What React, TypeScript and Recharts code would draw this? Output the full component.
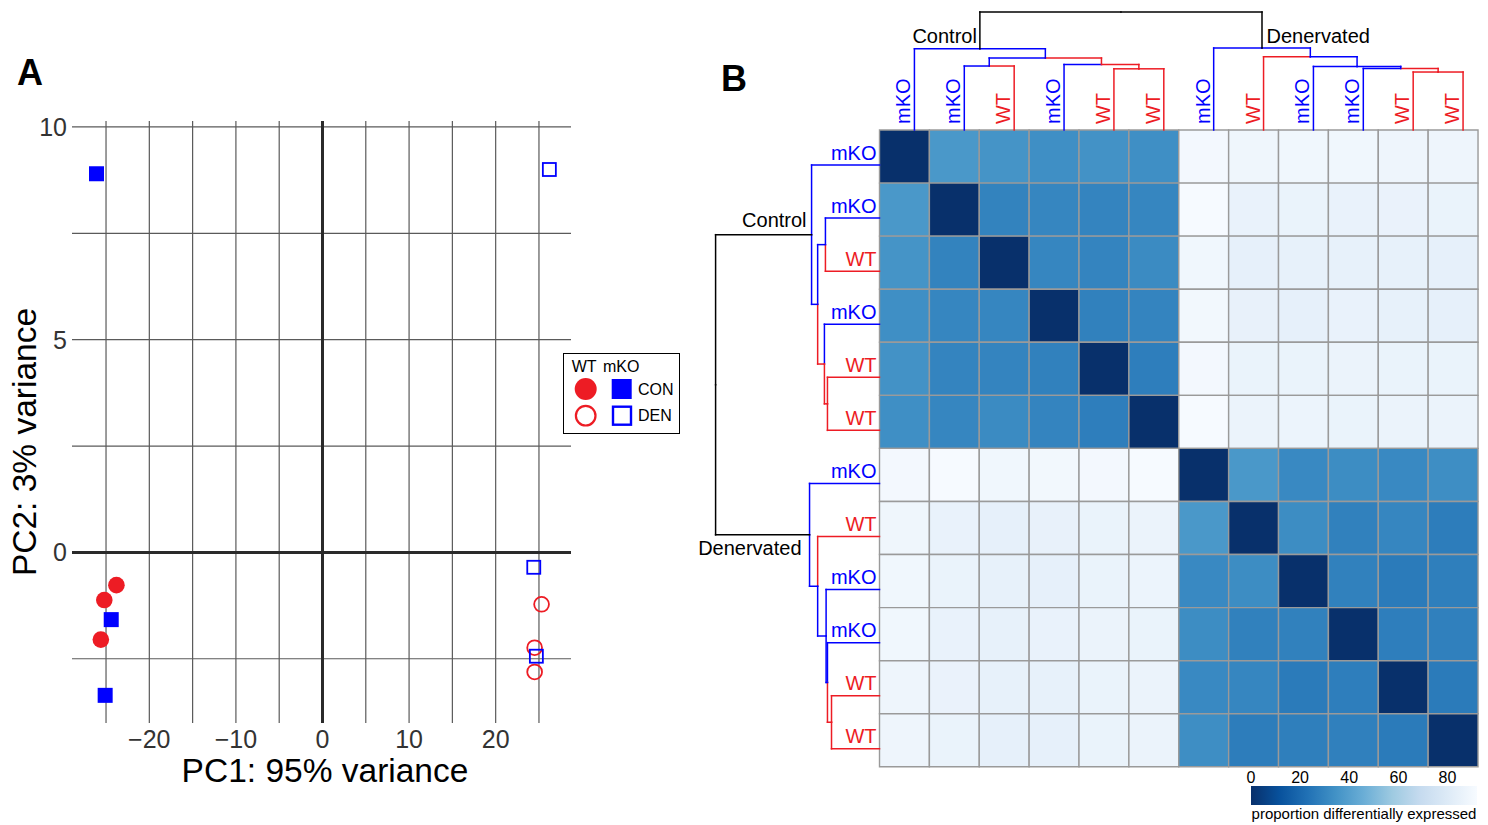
import React from 'react';
import { ScatterChart, Scatter, XAxis, YAxis, ReferenceLine, ReferenceArea, Legend, Label } from 'recharts';

const FONT = '"Liberation Sans", Arial, Helvetica, sans-serif';
const RED = '#ed1c24';
const BLUE = '#0000ff';

// ---- Panel A: PCA ----
const wtControl = [
  { pc1: -23.8, pc2: -0.77 },
  { pc1: -25.2, pc2: -1.12 },
  { pc1: -25.6, pc2: -2.05 },
];
const mkoControl = [
  { pc1: -26.1, pc2: 8.9 },
  { pc1: -24.4, pc2: -1.58 },
  { pc1: -25.1, pc2: -3.36 },
];
const wtDenervated = [
  { pc1: 25.3, pc2: -1.22 },
  { pc1: 24.5, pc2: -2.24 },
  { pc1: 24.5, pc2: -2.81 },
];
const mkoDenervated = [
  { pc1: 26.2, pc2: 9.0 },
  { pc1: 24.4, pc2: -0.35 },
  { pc1: 24.7, pc2: -2.44 },
];
const pc1Ticks = [-20, -10, 0, 10, 20];
const pc2Ticks = [0, 5, 10];
const pc1Grid = [-25, -20, -15, -10, -5, 5, 10, 15, 20, 25];
const pc2Grid = [-2.5, 2.5, 5, 7.5, 10];
const legendGenotypes = ['WT', 'mKO'];
const legendConditions = ['CON', 'DEN'];

// ---- Panel B: heatmap + dendrograms ----
const leafGenotypes = ['mKO', 'mKO', 'WT', 'mKO', 'WT', 'WT', 'mKO', 'WT', 'mKO', 'mKO', 'WT', 'WT'];
const groupLabels = ['Control', 'Denervated'];
const diffExpressed = [
  [0, 36.8, 35.3, 33.5, 34.7, 33.5, 90.2, 88.4, 88.8, 88.8, 87.9, 87.9],
  [36.8, 0, 29.3, 30.3, 29.6, 30.3, 91.5, 85.6, 86.0, 85.6, 85.8, 86.0],
  [35.3, 29.3, 0, 30.3, 29.6, 32.1, 88.8, 84.2, 84.6, 84.6, 84.6, 84.2],
  [33.5, 30.3, 30.3, 0, 28.6, 29.6, 89.8, 85.0, 84.2, 85.6, 84.6, 84.2],
  [34.7, 29.6, 29.6, 28.6, 0, 27.5, 90.2, 86.0, 86.0, 86.5, 86.0, 86.0],
  [33.5, 30.3, 32.1, 29.6, 27.5, 0, 91.5, 86.5, 87.0, 86.0, 86.5, 86.5],
  [90.2, 91.5, 88.8, 89.8, 90.2, 91.5, 0, 36.8, 31.5, 32.8, 31.5, 33.2],
  [88.4, 85.6, 84.2, 85.0, 86.0, 86.5, 36.8, 0, 32.8, 28.6, 30.3, 27.3],
  [88.8, 86.0, 84.6, 84.2, 86.0, 87.0, 31.5, 32.8, 0, 28.6, 26.5, 27.8],
  [88.8, 85.6, 84.6, 85.6, 86.5, 86.0, 32.8, 28.6, 28.6, 0, 27.5, 28.2],
  [87.9, 85.8, 84.6, 84.6, 86.0, 86.5, 31.5, 30.3, 26.5, 27.5, 0, 26.5],
  [87.9, 86.0, 84.2, 84.2, 86.0, 86.5, 33.2, 27.3, 27.8, 28.2, 26.5, 0],
];
// merges: ids 0-11 are samples, merge k gets id 12 + k
const mergeLeft = [4, 3, 1, 14, 0, 10, 9, 8, 7, 6, 16];
const mergeRight = [5, 12, 2, 13, 15, 11, 17, 18, 19, 20, 21];
const mergeLeftBranch = ['WT', 'mKO', 'mKO', 'mKO', 'mKO', 'WT', 'mKO', 'mKO', 'WT', 'mKO', 'root'];
const mergeRightBranch = ['WT', 'WT', 'WT', 'WT', 'mKO', 'WT', 'WT', 'mKO', 'mKO', 'mKO', 'root'];
const colMergeHeights = [1.53, 1.64, 1.6, 1.8, 2.03, 1.45, 1.54, 1.59, 1.83, 2.05, 2.95];
const rowMergeHeights = [1.54, 1.63, 1.6, 1.83, 2.01, 1.42, 1.54, 1.58, 1.83, 2.07, 4.85];
const colorbarTicks = [0, 20, 40, 60, 80];
const scaleMax = 92;
const bluesStops = ['#08306b', '#08519c', '#2171b5', '#4292c6', '#6baed6', '#9ecae1', '#c6dbef', '#deebf7', '#f7fbff'];

const branchColor: Record<string, string> = { mKO: BLUE, WT: RED, root: '#000000' };
const labelColor: Record<string, string> = { mKO: BLUE, WT: RED };

const hexToRgb = (h: string) => [1, 3, 5].map((k) => parseInt(h.slice(k, k + 2), 16));
const valueColor = (v: number) => {
  const t = Math.max(0, Math.min(1, v / scaleMax)) * (bluesStops.length - 1);
  const i = Math.min(Math.floor(t), bluesStops.length - 2);
  const f = t - i;
  const a = hexToRgb(bluesStops[i]);
  const b = hexToRgb(bluesStops[i + 1]);
  return `rgb(${a.map((c, k) => Math.round(c + (b[k] - c) * f)).join(',')})`;
};

const N = leafGenotypes.length;
const TOP_SHIFT = 0.2;
const TOP_SCALE = 0.7537;
const LEFT_SHIFT = 0.16;
const LEFT_SCALE = 0.6776;

const nodePos: number[] = leafGenotypes.map((_, i) => i + 0.5);
mergeLeft.forEach((l, k) => nodePos.push((nodePos[l] + nodePos[mergeRight[k]]) / 2));

type Seg = { x1: number; y1: number; x2: number; y2: number; color: string };
const topSegs: Seg[] = [];
const leftSegs: Seg[] = [];
const colH = (id: number) => (id < N ? 0 : colMergeHeights[id - N]);
const rowH = (id: number) => (id < N ? 0 : rowMergeHeights[id - N]);
mergeLeft.forEach((l, k) => {
  const id = N + k;
  const children: [number, string][] = [
    [l, mergeLeftBranch[k]],
    [mergeRight[k], mergeRightBranch[k]],
  ];
  const ty = N + colMergeHeights[k] * TOP_SCALE;
  const tx = nodePos[id] + TOP_SHIFT;
  const lx = -rowMergeHeights[k] * LEFT_SCALE;
  const ly = N - nodePos[id] - LEFT_SHIFT;
  children.forEach(([c, br]) => {
    const color = branchColor[br];
    const cx = nodePos[c] + TOP_SHIFT;
    const cy = N + colH(c) * TOP_SCALE;
    topSegs.push({ x1: tx, y1: ty, x2: cx, y2: ty, color }, { x1: cx, y1: ty, x2: cx, y2: cy, color });
    const ry = N - nodePos[c] - LEFT_SHIFT;
    const rx = -rowH(c) * LEFT_SCALE;
    leftSegs.push({ x1: lx, y1: ly, x2: lx, y2: ry, color }, { x1: lx, y1: ry, x2: rx, y2: ry, color });
  });
});

const rootK = mergeLeft.length - 1;
const groupIds = [mergeLeft[rootK], mergeRight[rootK]];
const topGroupData = groupIds.map((id, g) => ({
  x: nodePos[id] + TOP_SHIFT,
  y: N + colH(id) * TOP_SCALE,
  text: groupLabels[g],
}));
const leftGroupData = groupIds.map((id, g) => ({
  x: -rowH(id) * LEFT_SCALE,
  y: N - nodePos[id] - LEFT_SHIFT,
  text: groupLabels[g],
}));
const topLeafData = leafGenotypes.map((g, j) => ({ x: nodePos[j] + TOP_SHIFT, y: N, g }));
const leftLeafData = leafGenotypes.map((g, i) => ({ x: 0, y: N - nodePos[i] - LEFT_SHIFT, g }));
const colorbarData = colorbarTicks.map((t) => ({ x: t, y: 0.5 }));

const FilledCircle = (p: any) => <circle cx={p.cx} cy={p.cy} r={8.3} fill={RED} />;
const OpenCircle = (p: any) => (
  <circle cx={p.cx} cy={p.cy} r={7.4} fill="none" stroke={RED} strokeWidth={1.8} />
);
const FilledSquare = (p: any) => <rect x={p.cx - 7.5} y={p.cy - 7.5} width={15} height={15} fill={BLUE} />;
const OpenSquare = (p: any) => (
  <rect x={p.cx - 6.5} y={p.cy - 6.5} width={13} height={13} fill="none" stroke={BLUE} strokeWidth={1.8} />
);
const NoMark = () => <g />;

const PcaLegend = () => (
  <svg width={118} height={82} style={{ display: 'block', fontFamily: FONT }}>
    <rect x={0.5} y={0.5} width={116} height={80} fill="#fff" stroke="#000" />
    <text x={8.7} y={19} fontSize={16}>{legendGenotypes[0]}</text>
    <text x={40} y={19} fontSize={16}>{legendGenotypes[1]}</text>
    <circle cx={22.7} cy={36} r={11} fill={RED} />
    <rect x={48.7} y={26} width={20} height={20} fill={BLUE} />
    <text x={75} y={41.5} fontSize={16}>{legendConditions[0]}</text>
    <circle cx={22.7} cy={62.7} r={9.8} fill="none" stroke={RED} strokeWidth={2.2} />
    <rect x={50} y={53.7} width={18} height={18} fill="none" stroke={BLUE} strokeWidth={2.4} />
    <text x={75} y={68} fontSize={16}>{legendConditions[1]}</text>
  </svg>
);

const TopLeafLabel = (p: any) => {
  const x = p.cx - 4;
  const y = p.cy - 6;
  return (
    <text x={x} y={y} transform={`rotate(-90 ${x} ${y})`} fontSize={20} fill={labelColor[p.payload.g]}>
      {p.payload.g}
    </text>
  );
};
const LeftLeafLabel = (p: any) => (
  <text x={p.cx - 3} y={p.cy - 5.5} textAnchor="end" fontSize={20} fill={labelColor[p.payload.g]}>
    {p.payload.g}
  </text>
);
const TopGroupLabel = (p: any) => {
  const first = p.payload.text === groupLabels[0];
  return (
    <text x={first ? p.cx - 3 : p.cx + 4.5} y={p.cy - 5.5} textAnchor={first ? 'end' : 'start'} fontSize={20} fill="#000">
      {p.payload.text}
    </text>
  );
};
const LeftGroupLabel = (p: any) => {
  const first = p.payload.text === groupLabels[0];
  return (
    <text x={first ? p.cx - 5 : p.cx - 8} y={first ? p.cy - 8 : p.cy + 20} textAnchor="end" fontSize={20} fill="#000">
      {p.payload.text}
    </text>
  );
};

const fmtTick = (v: number) => (v < 0 ? `\u2212${-v}` : `${v}`);

const PanelLetter = ({ text, left, top }: { text: string; left: number; top: number }) => (
  <div style={{ position: 'absolute', left, top, fontSize: 36, fontWeight: 'bold', lineHeight: 1 }}>{text}</div>
);

export default function App() {
  return (
    <div style={{ position: 'absolute', left: 0, top: 0, width: 1488, height: 825, background: '#fff', fontFamily: FONT, overflow: 'hidden' }}>
      <PanelLetter text="A" left={17} top={55} />
      <PanelLetter text="B" left={721} top={61} />

      <div style={{ position: 'absolute', left: 0, top: 0 }}>
        <ScatterChart width={600} height={800} margin={{ top: 121, right: 29, bottom: 47, left: 0 }}>
          <XAxis
            type="number"
            dataKey="pc1"
            domain={[-28.93, 28.7]}
            allowDataOverflow
            ticks={pc1Ticks}
            interval={0}
            tickFormatter={fmtTick}
            axisLine={false}
            tickLine={false}
            tickSize={0}
            tickMargin={7}
            height={30}
            tick={{ fontSize: 25, fill: '#333' }}
          >
            <Label
              content={(props: any) => {
                const vb = props.viewBox;
                return (
                  <text x={vb.x + vb.width / 2 + 3.5} y={vb.y + 59} textAnchor="middle" fontSize={33.5} fill="#000">
                    PC1: 95% variance
                  </text>
                );
              }}
            />
          </XAxis>
          <YAxis
            type="number"
            dataKey="pc2"
            domain={[-4.01, 10.14]}
            allowDataOverflow
            ticks={pc2Ticks}
            interval={0}
            axisLine={false}
            tickLine={false}
            tickSize={0}
            tickMargin={5}
            width={72}
            tick={{ fontSize: 25, fill: '#333' }}
          >
            <Label
              content={(props: any) => {
                const vb = props.viewBox;
                const x = vb.x + 36;
                const y = vb.y + vb.height / 2 + 20;
                return (
                  <text x={x} y={y} transform={`rotate(-90 ${x} ${y})`} textAnchor="middle" fontSize={33.5} fill="#000">
                    PC2: 3% variance
                  </text>
                );
              }}
            />
          </YAxis>
          {pc1Grid.map((v) => (
            <ReferenceLine key={`gx${v}`} x={v} stroke="#5a5a5a" strokeWidth={1.2} />
          ))}
          {pc2Grid.map((v) => (
            <ReferenceLine key={`gy${v}`} y={v} stroke="#5a5a5a" strokeWidth={1.2} />
          ))}
          <ReferenceLine x={0} stroke="#2a2a2a" strokeWidth={3} />
          <ReferenceLine y={0} stroke="#2a2a2a" strokeWidth={3} />
          <Legend
            content={PcaLegend}
            layout="horizontal"
            align="center"
            verticalAlign="middle"
            wrapperStyle={{ left: 563, top: 353, width: 118, height: 82 }}
          />
          <Scatter name="WT CON" data={wtControl} shape={FilledCircle} isAnimationActive={false} />
          <Scatter name="mKO CON" data={mkoControl} shape={FilledSquare} isAnimationActive={false} />
          <Scatter name="WT DEN" data={wtDenervated} shape={OpenCircle} isAnimationActive={false} />
          <Scatter name="mKO DEN" data={mkoDenervated} shape={OpenSquare} isAnimationActive={false} />
        </ScatterChart>
      </div>

      <div style={{ position: 'absolute', left: 680, top: 0 }}>
        <ScatterChart width={808} height={770} margin={{ top: 0, right: 0, bottom: 0, left: 0 }}>
          <XAxis type="number" dataKey="x" domain={[-4, 12.2]} allowDataOverflow hide />
          <YAxis type="number" dataKey="y" domain={[-0.06, 14.45]} allowDataOverflow hide />
          {diffExpressed.flatMap((row, i) =>
            row.map((v, j) => (
              <ReferenceArea
                key={`c${i}-${j}`}
                x1={j}
                x2={j + 1}
                y1={N - 1 - i}
                y2={N - i}
                fill={valueColor(v)}
                fillOpacity={1}
                stroke="#9a9a9a"
                strokeWidth={1.4}
                ifOverflow="visible"
              />
            ))
          )}
          {topSegs.concat(leftSegs).map((s, i) => (
            <ReferenceLine
              key={`s${i}`}
              segment={[
                { x: s.x1, y: s.y1 },
                { x: s.x2, y: s.y2 },
              ]}
              stroke={s.color}
              strokeWidth={1.5}
              strokeLinecap="square"
              ifOverflow="visible"
            />
          ))}
          <Scatter data={topLeafData} shape={TopLeafLabel} isAnimationActive={false} />
          <Scatter data={leftLeafData} shape={LeftLeafLabel} isAnimationActive={false} />
          <Scatter data={topGroupData} shape={TopGroupLabel} isAnimationActive={false} />
          <Scatter data={leftGroupData} shape={LeftGroupLabel} isAnimationActive={false} />
        </ScatterChart>
      </div>

      <div style={{ position: 'absolute', left: 1236, top: 760 }}>
        <ScatterChart width={256} height={65} margin={{ top: 0, right: 15, bottom: 20, left: 15 }}>
          <defs>
            <linearGradient id="bluesScale" x1="0" y1="0" x2="1" y2="0">
              {bluesStops.map((c, i) => (
                <stop key={c} offset={`${(i / (bluesStops.length - 1)) * 100}%`} stopColor={c} />
              ))}
            </linearGradient>
          </defs>
          <XAxis
            type="number"
            dataKey="x"
            orientation="top"
            domain={[0, scaleMax]}
            allowDataOverflow
            ticks={colorbarTicks}
            interval={0}
            height={26}
            axisLine={false}
            tickLine={false}
            tickSize={0}
            tickMargin={3}
            tick={{ fontSize: 16, fill: '#000' }}
          />
          <YAxis type="number" dataKey="y" domain={[0, 1]} allowDataOverflow hide />
          <ReferenceArea
            x1={0}
            x2={scaleMax}
            y1={0}
            y2={1}
            fill="url(#bluesScale)"
            fillOpacity={1}
            ifOverflow="visible"
            label={{ value: 'proportion differentially expressed', position: 'bottom', offset: 3, fontSize: 15, fill: '#000' }}
          />
          <Scatter data={colorbarData} shape={NoMark} isAnimationActive={false} />
        </ScatterChart>
      </div>
    </div>
  );
}
